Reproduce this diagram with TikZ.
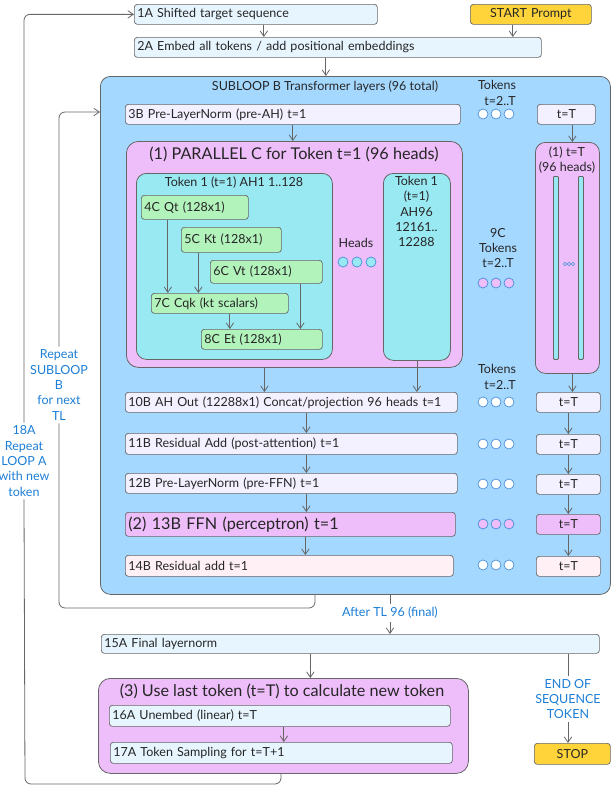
\documentclass[tikz,border=0pt]{standalone}
\usepackage{fontspec}
\setmainfont{Lato}
\usetikzlibrary{arrows.meta}
\definecolor{lblue}{HTML}{E7F5FF}
\definecolor{skyb}{HTML}{A5D8FF}
\definecolor{lav}{HTML}{F3F0FF}
\definecolor{pinkf}{HTML}{EEBEFA}
\definecolor{cyanf}{HTML}{99E9F2}
\definecolor{greenf}{HTML}{B2F2BB}
\definecolor{gold}{HTML}{FFD43B}
\definecolor{lpink}{HTML}{FFF0F6}
\definecolor{edge}{HTML}{666666}
\definecolor{ink}{HTML}{262626}
\definecolor{lbl}{HTML}{1C7ED6}
\definecolor{dotb}{HTML}{4A90D9}

\begin{document}
\begin{tikzpicture}[x=1pt,y=-1pt]
\tikzset{every node/.style={font=\fontsize{12.5}{15.3}\selectfont, text=ink},
  box/.style={draw=edge, line width=0.7pt, rounded corners=3pt, anchor=north west, inner xsep=3pt, inner ysep=0pt, minimum height=#1, align=left},
  box/.default=20pt,
  frame/.style={draw=edge, line width=0.8pt, rounded corners=#1, anchor=north west, inner sep=0pt},
  big/.style={font=\fontsize{16.2}{19}\selectfont},
  note/.style={text=lbl, align=center, inner sep=3pt},
  dot/.style={circle, draw=dotb, line width=0.7pt, minimum size=10pt, inner sep=0pt, fill=#1},
  line/.style={draw=edge, line width=0.8pt},
  >={Straight Barb[length=5.5pt,width=7.5pt]}}
\useasboundingbox (0,0) rectangle (613,790);

% LOOP A input
\node[box, fill=lblue, text width=237pt] (s1A) at (134,4) {1A Shifted target sequence};
\node[box, fill=gold, text width=115pt, align=center] (start) at (470,4) {START Prompt};
\node[box, fill=lblue, text width=401pt] (s2A) at (134,37) {2A Embed all tokens / add positional embeddings};

% SUBLOOP B
\node[frame=10pt, fill=skyb, minimum width=510pt, minimum height=518pt] (cB) at (100,76) {};
\node (tB) at (325,87) {SUBLOOP B Transformer layers (96 total)};
\node[align=center, inner sep=0pt] (tok1) at (497,93) {Tokens\\\hspace*{6pt}t=2..T};
\node[box, fill=lav, text width=329pt] (s3B) at (125,104) {3B Pre-LayerNorm (pre-AH) t=1};
\node[box, fill=lav, text width=52pt, align=center] (tT1) at (537,104) {t=T};

% PARALLEL C
\node[frame=12pt, fill=pinkf, minimum width=336pt, minimum height=226pt] (cC) at (126,141) {};
\node[big] (tC) at (294,154) {(1) PARALLEL C for Token t=1 (96 heads)};
\node[frame=10pt, fill=cyanf, minimum width=196pt, minimum height=186pt] (ah1) at (136,173) {};
\node (tAh1) at (234,183) {Token 1 (t=1) AH1 1..128};
\node[box=24pt, fill=greenf, text width=101pt] (q4C) at (141,195) {4C Qt (128x1)};
\node[box=25pt, fill=greenf, text width=94pt] (k5C) at (181,227) {5C Kt (128x1)};
\node[box=23pt, fill=greenf, text width=106pt] (v6C) at (210,260) {6C Vt (128x1)};
\node[box, fill=greenf, text width=131pt] (c7C) at (151,293) {7C Cqk (kt scalars)};
\node[box, fill=greenf, text width=115pt] (e8C) at (201,329) {8C Et (128x1)};
\node (heads) at (356,243) {Heads};
\foreach \i/\x in {1/343,2/357,3/371}
  \node[dot=cyanf] (h\i) at (\x,262) {};
\node[frame=10pt, fill=cyanf, minimum width=67pt, minimum height=187pt] (ah96) at (383,173) {};
\node[anchor=north, align=center, inner sep=0pt] (tAh96) at (416.5,176) {Token 1\\(t=1)\\AH96\\12161..\\12288};

% tokens t=2..T
\node[align=center, inner sep=0pt] (tok9) at (498,248) {9C\\Tokens\\t=2..T};
\node[frame=10pt, fill=pinkf, minimum width=64pt, minimum height=231pt] (c1T) at (535,142) {};
\node[align=center, inner sep=0pt] (t1T) at (567,160) {(1) t=T\\(96 heads)};
\node[frame=1pt, fill=cyanf, minimum width=5pt, minimum height=183pt] (bar1) at (553,176) {};
\node[frame=1pt, fill=cyanf, minimum width=5pt, minimum height=183pt] (bar2) at (578,176) {};
\foreach \i/\x in {1/565,2/569,3/573}
  \node[circle, draw=dotb, line width=0.5pt, minimum size=3.5pt, inner sep=0pt] (m\i) at (\x,264) {};
\node[align=center, inner sep=0pt] (tok2) at (497,377) {Tokens\\\hspace*{6pt}t=2..T};

\foreach \n/\y/\c in {a/114/white, b/283/pinkf, c/402/white, d/444/white, e/484/white, f/524/pinkf, g/565/white}
  \foreach \i/\x in {1/483,2/496,3/509}
    \node[dot=\c] (o\n\i) at (\x,\y) {};

% rows after attention
\node[box, fill=lav, text width=326pt] (r10) at (125,392) {10B AH Out (12288x1) Concat/projection 96 heads t=1};
\node[box=21pt, fill=lav, text width=326pt] (r11) at (125,433) {11B Residual Add (post-attention) t=1};
\node[box, fill=lav, text width=326pt] (r12) at (125,473) {12B Pre-LayerNorm (pre-FFN) t=1};
\node[box=24pt, fill=pinkf, text width=324pt, big] (r13) at (125,512) {(2) 13B FFN (perceptron) t=1};
\node[box=21pt, fill=lpink, text width=322pt] (r14) at (125,555) {14B Residual add t=1};
\foreach \n/\y/\c in {10/392/lav, 11/434/lav, 12/474/lav, 13/514/pinkf, 14/556/lpink}
  \node[box, fill=\c, text width=58pt, align=center] (T\n) at (536,\y) {t=T};

% final part
\node[note] (aTL) at (390,613) {After TL 96 (final)};
\node[box=19pt, fill=lblue, text width=492pt] (f15) at (101,634) {15A Final layernorm};
\node[frame=12pt, fill=pinkf, minimum width=370pt, minimum height=95pt] (c3) at (98,678) {};
\node[big] (t3) at (282,691) {(3) Use last token (t=T) to calculate new token};
\node[box=21pt, fill=lblue, text width=335pt] (u16) at (109,705) {16A Unembed (linear) t=T};
\node[box=21pt, fill=lblue, text width=336pt] (s17) at (110,742) {17A Token Sampling for t=T+1};
\node[note] (eos) at (568,699) {END OF\\SEQUENCE\\TOKEN};
\node[box=21pt, fill=gold, text width=70pt, align=center] (stop) at (534,743) {STOP};

\node[note] (repB) at (59,385) {Repeat\\SUBLOOP\\B\\for next\\TL};
\node[note] (repA) at (24,461) {18A\\Repeat\\LOOP A\\with new\\token};

% connectors
\draw[line, ->] ([xshift=8pt]s1A.south) -- ([xshift=8pt]s1A.south |- s2A.north);
\draw[line, ->] ([xshift=-18pt]start.south) -- ([xshift=-18pt]start.south |- s2A.north);
\draw[line, ->] ([xshift=-12pt]s2A.south) -- ([xshift=-12pt]s2A.south |- cB.north);
\draw[line, ->] (s3B.south) -- (s3B.south |- cC.north);
\draw[line, ->] ([xshift=6pt]tT1.south) -- ([xshift=6pt]tT1.south |- c1T.north);
\draw[line, ->] ([xshift=-27pt]q4C.south) -- ([xshift=-27pt]q4C.south |- c7C.north);
\draw[line, ->] ([xshift=-33pt]k5C.south) -- ([xshift=-33pt]k5C.south |- c7C.north);
\draw[line, ->] ([xshift=34pt]v6C.south) -- ([xshift=34pt]v6C.south |- e8C.north);
\draw[line, ->] ([xshift=10pt]c7C.south) -- ([xshift=10pt]c7C.south |- e8C.north);
\draw[line, ->] ([xshift=-30pt]cC.south) -- ([xshift=-30pt]cC.south |- r10.north);
\draw[line, ->] (ah96.south) -- (ah96.south |- r10.north);
\draw[line, ->] ([xshift=5pt]c1T.south) -- ([xshift=5pt]c1T.south |- T10.north);
\foreach \a/\b in {10/11,11/12,12/13,13/14} {
  \draw[line, ->] ([xshift=15pt]r\a.south) -- ([xshift=15pt]r\a.south |- r\b.north);
  \draw[line, ->] (T\a.south) -- (T\b.north);
}
\draw[line] (cB.south -| aTL.north) -- (aTL.north);
\draw[line, ->] (aTL.south) -- (aTL.south |- f15.north);
\draw[line, ->] ([xshift=-40pt]f15.south) -- ([xshift=-40pt]f15.south |- c3.north);
\draw[line, ->] ([xshift=4pt]u16.south) -- ([xshift=4pt]u16.south |- s17.north);
\draw[line] (f15.south -| eos.north) -- (eos.north);
\draw[line, ->] (eos.south) -- (eos.south |- stop.north);

% loops
\draw[line, rounded corners=6pt] ([xshift=215pt]cB.south west) |- (59,608) -- (repB.south);
\draw[line, ->, rounded corners=6pt] (repB.north) |- ([yshift=-36pt]cB.north west);
\draw[line, rounded corners=6pt] ([xshift=183pt]c3.south west) |- (25,784) -- (repA.south);
\draw[line, ->, rounded corners=6pt] (repA.north) |- (s1A.west);
\end{tikzpicture}
\end{document}
